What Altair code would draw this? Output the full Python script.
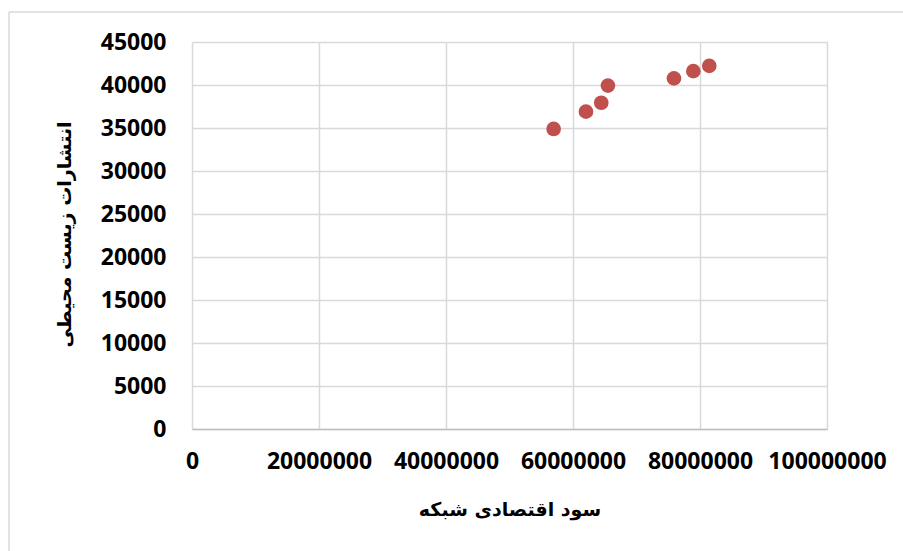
import altair as alt
import pandas as pd

# Network economic profit vs. environmental emissions
profit = [56950000, 62040000, 64450000, 65500000, 75900000, 78950000, 81460000]
emissions = [34890, 36900, 37940, 39930, 40770, 41610, 42230]

x_ticks = [0, 20000000, 40000000, 60000000, 80000000, 100000000]
y_ticks = [0, 5000, 10000, 15000, 20000, 25000, 30000, 35000, 40000, 45000]

df = pd.DataFrame({"profit": profit, "emissions": emissions})

label_font = "Open Sans"
title_font = "DejaVu Sans"

points = alt.Chart(df).mark_circle(size=215, color="#C0504D", opacity=1).encode(
    x=alt.X(
        "profit:Q",
        scale=alt.Scale(domain=[0, 100000000], nice=False),
        axis=alt.Axis(
            values=x_ticks,
            format="d",
            title="سود اقتصادی شبکه",
            titleFont=title_font,
            titleFontSize=19,
            titleFontWeight="bold",
            titleColor="#000000",
            titleBaseline="alphabetic",
            titleY=86,
            labelFont=label_font,
            labelFontSize=23,
            labelFontWeight="bold",
            labelColor="#000000",
            labelPadding=21,
            labelFlush=False,
            ticks=False,
            domain=True,
            domainColor="#bfbfbf",
            domainWidth=1.5,
            grid=True,
            gridColor="#d9d9d9",
            gridWidth=1.5,
        ),
    ),
    y=alt.Y(
        "emissions:Q",
        scale=alt.Scale(domain=[0, 45000], nice=False),
        axis=alt.Axis(
            values=y_ticks,
            format="d",
            title="انتشارات زیست محیطی",
            titleFont=title_font,
            titleFontSize=19,
            titleFontWeight="bold",
            titleColor="#000000",
            titleAngle=-90,
            titleBaseline="alphabetic",
            titleX=-122,
            titleY=192,
            labelFont=label_font,
            labelFontSize=23,
            labelFontWeight="bold",
            labelColor="#000000",
            labelPadding=26,
            ticks=False,
            domain=False,
            grid=True,
            gridColor="#d9d9d9",
            gridWidth=1.5,
        ),
    ),
)

# Light frame around the whole figure (top and left edges)
frame_top = alt.Chart(pd.DataFrame({"k": [0]})).mark_rule(
    color="#d9d9d9", strokeWidth=1.5, clip=False
).encode(x=alt.value(-183), x2=alt.value(720), y=alt.value(-30))

frame_left = alt.Chart(pd.DataFrame({"k": [0]})).mark_rule(
    color="#d9d9d9", strokeWidth=1.5, clip=False
).encode(x=alt.value(-183), y=alt.value(-30), y2=alt.value(520))

chart = (
    alt.layer(frame_top, frame_left, points)
    .properties(
        width=635,
        height=387,
        autosize=alt.AutoSizeParams(type="none"),
        padding={"left": 192, "top": 42, "right": 76, "bottom": 122},
        background="#ffffff",
    )
    .configure_view(stroke=None)
)

chart.save("out.html", embed_options={"renderer": "svg", "actions": False})
